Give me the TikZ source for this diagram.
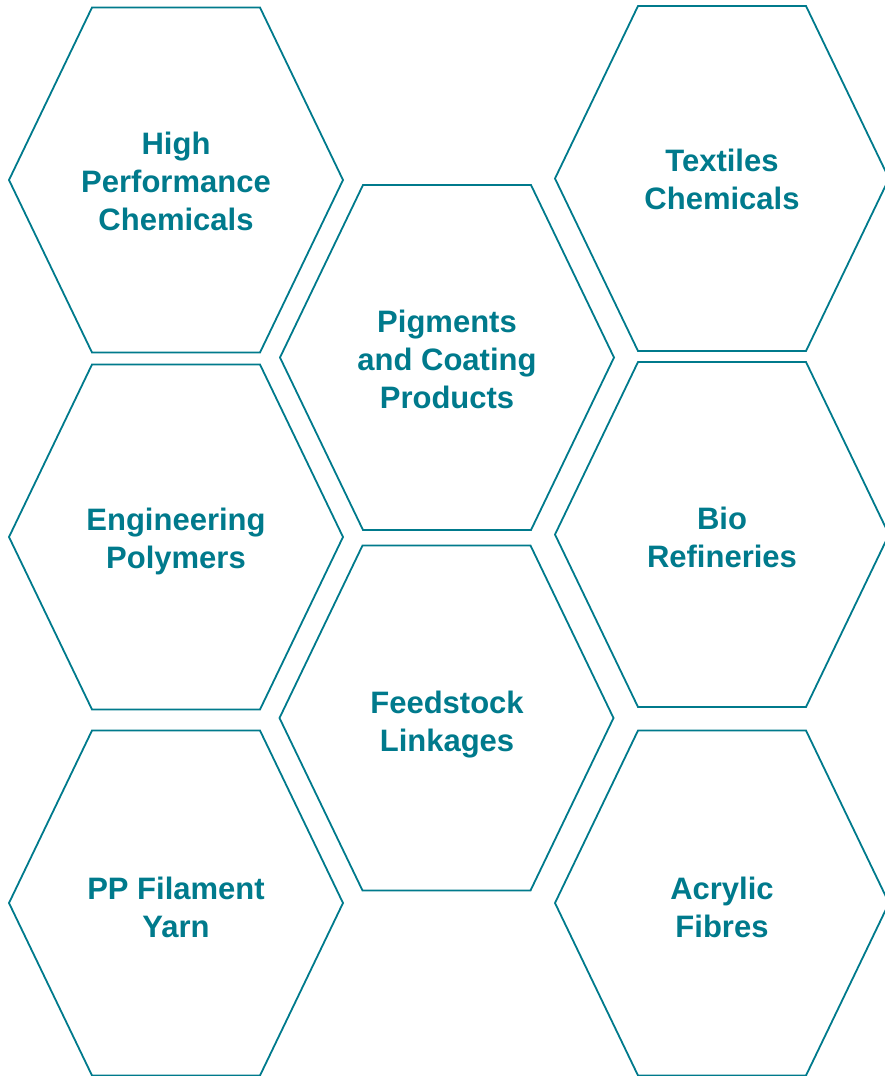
\documentclass[tikz,border=0pt]{standalone}
\usepackage{fontspec}
\setmainfont{Liberation Sans}
\definecolor{teal1}{RGB}{0,122,140}
\begin{document}
\begin{tikzpicture}[x=1pt,y=-1pt,
  hexline/.style={draw=teal1,line width=1.8pt,line join=miter},
  lbl/.style={text=teal1,font=\fontsize{31}{38}\selectfont\bfseries,align=center,inner sep=0pt}]
\useasboundingbox (0,0) rectangle (885,1076);
\clip (0,0) rectangle (885,1076);
\node[lbl] (hpc) at (176,181) {High\\Performance\\Chemicals};
\node[lbl] (eng) at (176,541) {Engineering\\Polymers};
\node[lbl] (ppf) at (176,907) {PP Filament\\Yarn};
\node[lbl] (pig) at (447,359) {Pigments\\and Coating\\Products};
\node[lbl] (fee) at (447,725) {Feedstock\\Linkages};
\node[lbl] (tex) at (722,179) {Textiles\\Chemicals};
\node[lbl] (bio) at (722,537) {Bio\\Refineries};
\node[lbl] (acr) at (722,907) {Acrylic\\Fibres};
\foreach \cx/\cy in {176/180, 176/537, 176/903, 447/357.5, 446.5/718, 722/178.5, 722/534.5, 722/903}{
  \draw[hexline] (\cx-167,\cy) -- (\cx-84,\cy-172.5) -- (\cx+84,\cy-172.5) -- (\cx+167,\cy) -- (\cx+84,\cy+172.5) -- (\cx-84,\cy+172.5) -- cycle;
}
\end{tikzpicture}
\end{document}
